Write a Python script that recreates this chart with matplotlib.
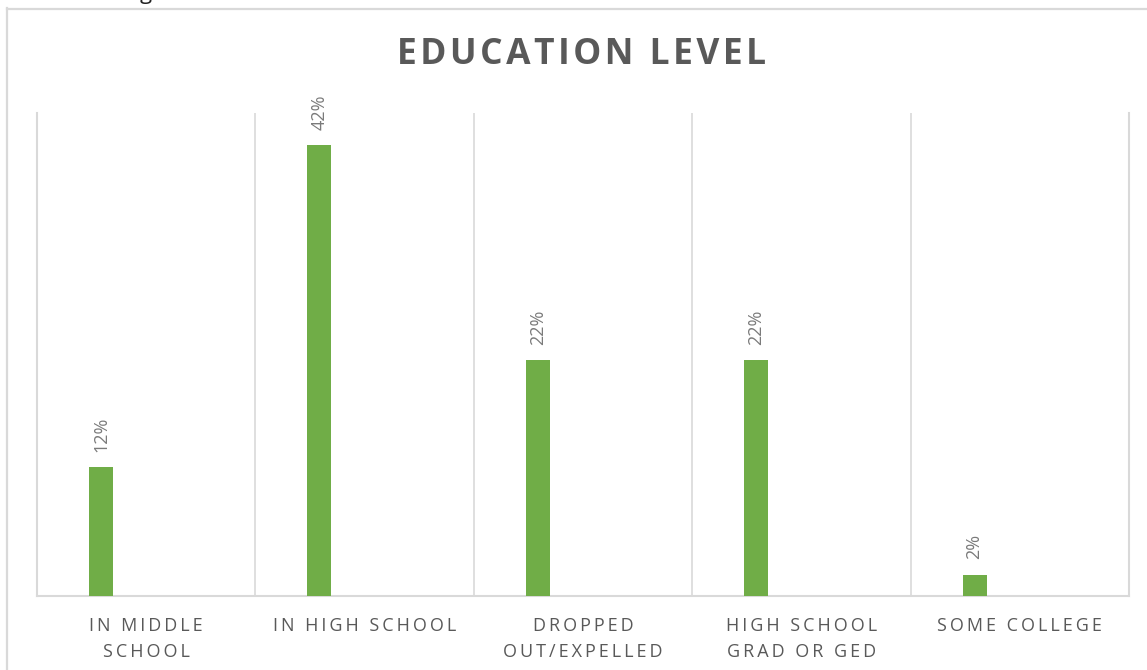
import matplotlib
matplotlib.use("Agg")
import matplotlib.pyplot as plt
from matplotlib.lines import Line2D

plt.rcParams['font.family'] = ['Open Sans', 'DejaVu Sans']

# Data
categories = ["IN MIDDLE\nSCHOOL", "IN HIGH SCHOOL", "DROPPED\nOUT/EXPELLED",
              "HIGH SCHOOL\nGRAD OR GED", "SOME COLLEGE"]
percent = [12, 42, 22, 22, 2]
title = "EDUCATION LEVEL"

GREEN = "#70ad47"
GRID = "#d9d9d9"
TEXT = "#595959"


def spaced(s, sep="\u200a"):
    """Spread letters apart line by line."""
    return "\n".join(sep.join(list(line)) for line in s.split("\n"))


W, H = 1147, 670
fig = plt.figure(figsize=(W / 100, H / 100), dpi=100)
fig.patch.set_facecolor("white")

# Plot area in pixel terms
left, right, bottom, top = 37, 1129, 596, 113
ax = fig.add_axes([left / W, 1 - bottom / H, (right - left) / W, (bottom - top) / H])

n = len(categories)
offset, width = 0.293, 0.11
xs = [i + offset for i in range(n)]
ax.bar(xs, percent, width=width, color=GREEN, zorder=3)

ax.set_xlim(0, n)
ax.set_ylim(0, 45)
ax.set_yticks([])

# Category separators
for b in range(1, n):
    ax.axvline(b, color=GRID, lw=1.2, zorder=1)
for side in ("left", "right", "bottom"):
    ax.spines[side].set_color(GRID)
    ax.spines[side].set_linewidth(1.5)
ax.spines["top"].set_visible(False)

ax.set_xticks([i + 0.5 for i in range(n)])
ax.set_xticklabels([spaced(c, "\u2009") for c in categories],
                   fontsize=13, color=TEXT, linespacing=1.6)
ax.tick_params(axis="x", length=0, pad=15)

# Value labels, rotated above each bar
for x, v in zip(xs, percent):
    ax.annotate(f"{v}%", (x, v), xytext=(0, 11), textcoords="offset points",
                rotation=90, ha="center", va="bottom", fontsize=13, color="#7a7a7a")

fig.text(582 / W, 1 - 55 / H, spaced(title), ha="center", va="center",
         fontsize=25.5, fontweight="bold", color=TEXT)

# Chart frame (continues past the figure's right and bottom edges)
fig.add_artist(Line2D([7.5 / W, 7.5 / W], [0, 1 - 8 / H], color=GRID, lw=1.6,
                      transform=fig.transFigure))
fig.add_artist(Line2D([7 / W, 1], [1 - 8.5 / H, 1 - 8.5 / H], color=GRID, lw=1.6,
                      transform=fig.transFigure))

# Tail of text running above the frame
fig.text(140 / W, 1 + 1 / H, "g", ha="left", va="baseline", fontsize=16, color="#222222")

fig.savefig("out.png", dpi=100, facecolor="white")
